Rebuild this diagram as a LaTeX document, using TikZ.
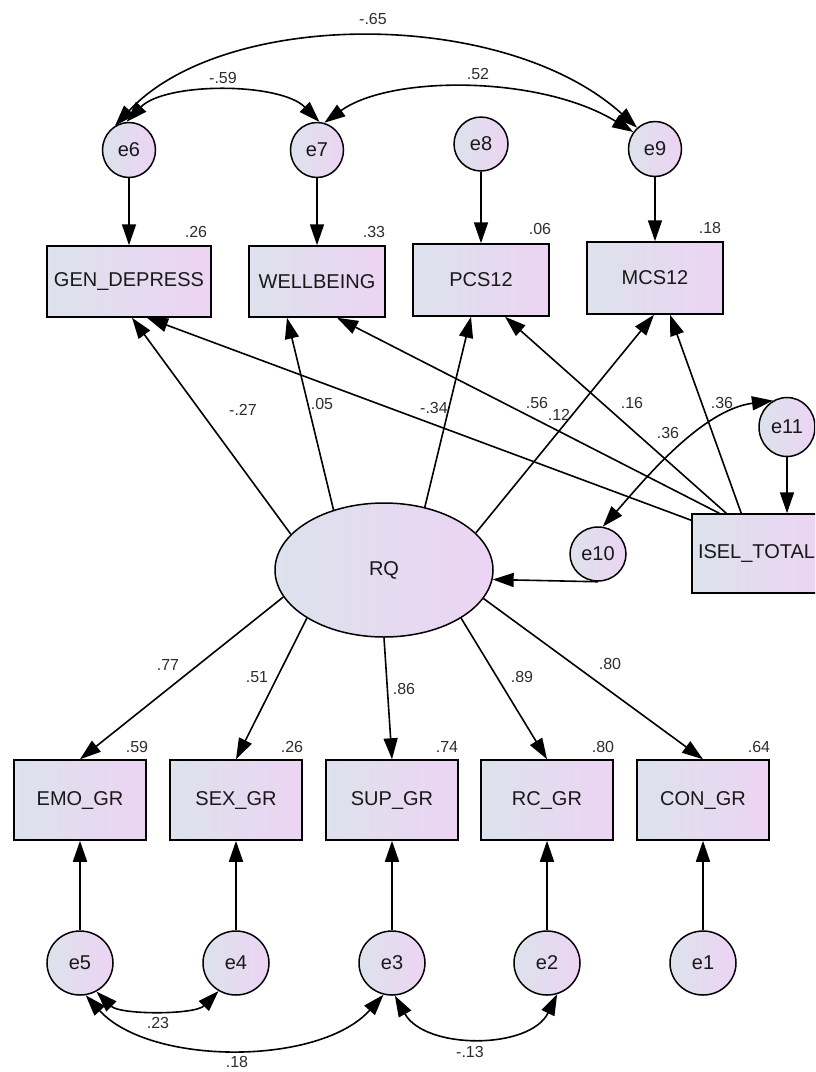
\documentclass[tikz,border=0pt]{standalone}
\usepackage{fontspec}
\setmainfont{Liberation Sans}
\usetikzlibrary{arrows.meta,shapes.geometric,calc}
\definecolor{gL}{RGB}{221,226,236}
\definecolor{gR}{RGB}{236,212,243}
\definecolor{lblc}{RGB}{45,45,45}
\tikzset{
  sh/.style={draw=black,line width=1.5pt,left color=gL,right color=gR,inner sep=0pt,text=black!90,font=\fontsize{20}{22}\selectfont},
  box/.style={sh,rectangle},
  lat/.style={sh,ellipse},
  reg/.style={->,line width=1.6pt},
  cov/.style={<->,line width=1.6pt},
  lbl/.style={inner sep=0pt,text=lblc,font=\fontsize{16}{17}\selectfont}
}
\begin{document}
\begin{tikzpicture}[x=1pt,y=-1pt,>={Triangle[length=21pt,width=14pt]}]
\useasboundingbox (0,0) rectangle (815,1072);
\clip (0,0) rectangle (815,1072);
\fill[white] (0,0) rectangle (815,1072);

% top observed
\node[box,minimum width=164pt,minimum height=71pt] (gd) at (129,281.5) {GEN\_DEPRESS};
\node[box,minimum width=136pt,minimum height=71pt] (wb) at (317,281.5) {WELLBEING};
\node[box,minimum width=136pt,minimum height=72pt] (pcs) at (481,280) {PCS12};
\node[box,minimum width=136pt,minimum height=72pt] (mcs) at (655,278) {MCS12};
% top errors
\node[lat,minimum width=53pt,minimum height=55pt] (e6) at (129,150) {e6};
\node[lat,minimum width=53pt,minimum height=55pt] (e7) at (317,150) {e7};
\node[lat,minimum width=54pt,minimum height=54pt] (e8) at (481,144) {e8};
\node[lat,minimum width=53pt,minimum height=55pt] (e9) at (655,149) {e9};
% middle
\node[lat,minimum width=218pt,minimum height=134pt] (RQ) at (384,570) {RQ};
\node[box,inner xsep=6pt,text width=124pt,align=left,minimum height=79pt] (isel) at (760,553.5) {ISEL\_TOTAL};
\node[lat,minimum width=56pt,minimum height=54pt] (e10) at (598,554) {e10};
\node[lat,minimum width=56pt,minimum height=59pt] (e11) at (787,427) {e11};
% bottom observed
\node[box,minimum width=132pt,minimum height=80pt] (emo) at (80,800) {EMO\_GR};
\node[box,minimum width=132pt,minimum height=80pt] (sex) at (236,800) {SEX\_GR};
\node[box,minimum width=132pt,minimum height=80pt] (sup) at (392,800) {SUP\_GR};
\node[box,minimum width=132pt,minimum height=80pt] (rc) at (547,800) {RC\_GR};
\node[box,minimum width=132pt,minimum height=80pt] (con) at (703,800) {CON\_GR};
% bottom errors
\node[lat,minimum width=66pt,minimum height=64pt] (e5) at (80,963) {e5};
\node[lat,minimum width=66pt,minimum height=64pt] (e4) at (236,963) {e4};
\node[lat,minimum width=66pt,minimum height=64pt] (e3) at (392,963) {e3};
\node[lat,minimum width=66pt,minimum height=64pt] (e2) at (547,963) {e2};
\node[lat,minimum width=66pt,minimum height=64pt] (e1) at (703,963) {e1};

% error -> observed (top)
\draw[reg] (e6) -- (gd);
\draw[reg] (e7) -- (wb);
\draw[reg] (e8) -- (pcs);
\draw[reg] (e9) -- (mcs);
% RQ -> top
\draw[reg] (RQ.159.4) -- ([xshift=3pt]gd.south);
\draw[reg] (RQ.130.8) -- ([xshift=-30pt]wb.south);
\draw[reg] (RQ.57.2) -- ([xshift=-10pt]pcs.south);
\draw[reg] (RQ.22.1) -- ([xshift=-1pt]mcs.south);
% ISEL -> top
\draw[reg] ([yshift=-7pt]isel.north west) -- ([xshift=18pt]gd.south);
\draw[reg] ([xshift=28pt]isel.north west) -- ([xshift=20pt]wb.south);
\draw[reg] ([xshift=35pt]isel.north west) -- ([xshift=24pt]pcs.south);
\draw[reg] ([xshift=50pt]isel.north west) -- ([xshift=15pt]mcs.south);
\draw[reg] (e11.south) -- (e11.south |- isel.north);
\draw[reg] (e10.south) -- (RQ.-5.8);
% RQ -> bottom
\draw[reg] (RQ.195) -- (emo.north);
\draw[reg] (RQ.212.8) -- (sex.north);
\draw[reg] (RQ.south) -- (sup.north);
\draw[reg] (RQ.-32.3) -- (rc.north);
\draw[reg] (RQ.-16.3) -- (con.north);
% error -> observed (bottom)
\draw[reg] (e5) -- (emo);
\draw[reg] (e4) -- (sex);
\draw[reg] (e3) -- (sup);
\draw[reg] (e2) -- (rc);
\draw[reg] (e1) -- (con);

% covariances
\draw[cov] (e6.120) .. controls (225,8) and (505,8) .. (e9.130);
\draw[cov] (e6.95) .. controls (165,82) and (280,82) .. (e7.85);
\draw[cov] (e7.75) .. controls (390,75) and (540,75) .. (e9.142);
\draw[cov] (e10.80) .. controls (640,485) and (700,410) .. (e11.118);
\draw[cov] (e5.-60) .. controls (120,1015) and (195,1015) .. (e4.-122);
\draw[cov] (e5.-80) .. controls (150,1066) and (320,1066) .. (e3.-105);
\draw[cov] (e3.-85) .. controls (425,1050) and (530,1050) .. (e2.-72);

% labels
\node[lbl] (l1) at (373,19) {-.65};
\node[lbl] (l2) at (223,78) {-.59};
\node[lbl] (l3) at (478,74) {.52};
\node[lbl] (l4) at (196,232) {.26};
\node[lbl] (l5) at (374,232) {.33};
\node[lbl] (l6) at (540,229) {.06};
\node[lbl] (l7) at (710,228) {.18};
\node[lbl] (l8) at (243,410) {-.27};
\node[lbl] (l9) at (322,404) {.05};
\node[lbl] (l10) at (434,408) {-.34};
\node[lbl] (l11) at (537,403) {.56};
\node[lbl] (l12) at (559,415) {.12};
\node[lbl] (l13) at (632,403) {.16};
\node[lbl] (l14) at (722,403) {.36};
\node[lbl] (l15) at (668,433) {.36};
\node[lbl] (l16) at (168,665) {.77};
\node[lbl] (l17) at (257,677) {.51};
\node[lbl] (l18) at (404,689) {.86};
\node[lbl] (l19) at (522,677) {.89};
\node[lbl] (l20) at (610,664) {.80};
\node[lbl] (l21) at (137,747) {.59};
\node[lbl] (l22) at (292,747) {.26};
\node[lbl] (l23) at (447,747) {.74};
\node[lbl] (l24) at (603,747) {.80};
\node[lbl] (l25) at (759,747) {.64};
\node[lbl] (l26) at (158,1023) {.23};
\node[lbl] (l27) at (237,1062) {.18};
\node[lbl] (l28) at (470,1052) {-.13};
\end{tikzpicture}
\end{document}
